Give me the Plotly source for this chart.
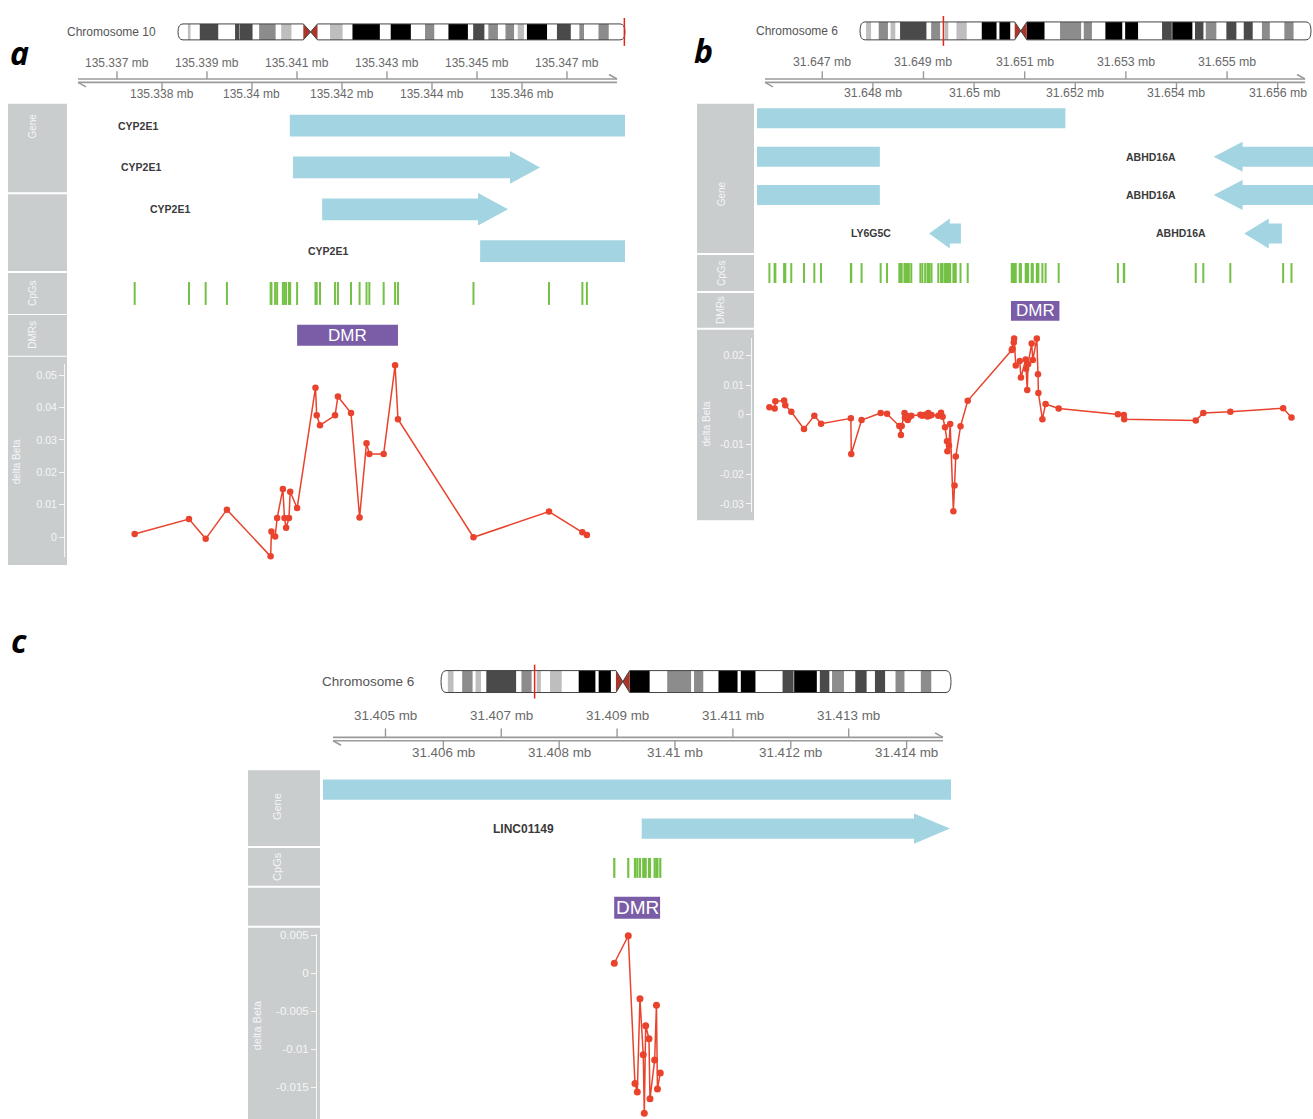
import plotly.graph_objects as go

FIG_W, FIG_H = 1313, 1119
FONT = "Liberation Sans, Arial, sans-serif"

# ---------------------------------------------------------------------------
# Cytoband tables (hg19)
# ---------------------------------------------------------------------------
CHR10_LEN = 135534747
CHR10_BAND_START = [0, 3000000, 3800000, 6600000, 12200000, 17300000, 18600000, 18700000,
                    22600000, 24600000, 29600000, 31300000, 34400000, 38000000, 40200000,
                    42300000, 46100000, 49900000, 52900000, 61200000, 64500000, 70600000,
                    74900000, 77700000, 82000000, 87900000, 89500000, 92900000, 94100000,
                    97000000, 99300000, 101900000, 103000000, 104900000, 105800000,
                    111900000, 114900000, 119100000, 121700000, 123100000, 127500000,
                    130600000]
CHR10_BAND_STAIN = ["gneg", "gpos25", "gneg", "gpos75", "gneg", "gpos75", "gneg", "gpos75",
                    "gneg", "gpos50", "gneg", "gpos25", "gneg", "acen", "acen", "gneg",
                    "gpos25", "gneg", "gpos100", "gneg", "gpos100", "gneg", "gpos50", "gneg",
                    "gpos100", "gneg", "gpos75", "gneg", "gpos50", "gneg", "gpos50", "gneg",
                    "gpos25", "gneg", "gpos100", "gneg", "gpos75", "gneg", "gpos50", "gneg",
                    "gpos50", "gneg"]

CHR6_LEN = 171115067
CHR6_BAND_START = [0, 2300000, 4200000, 7100000, 10600000, 11600000, 13400000, 15200000,
                   25200000, 27000000, 30400000, 32100000, 33500000, 36600000, 40500000,
                   46200000, 51800000, 52900000, 57000000, 58700000, 61000000, 63300000,
                   70000000, 75900000, 83900000, 84900000, 88000000, 93100000, 99500000,
                   100600000, 105500000, 114600000, 118300000, 118500000, 126100000,
                   127100000, 130300000, 131200000, 135200000, 139000000, 142800000,
                   145600000, 149000000, 152500000, 155500000, 161000000, 164500000]
CHR6_BAND_STAIN = ["gneg", "gpos25", "gneg", "gpos50", "gneg", "gpos25", "gneg", "gpos75",
                   "gneg", "gpos50", "gneg", "gpos25", "gneg", "gpos25", "gneg", "gpos100",
                   "gneg", "gpos100", "gneg", "acen", "acen", "gpos100", "gneg", "gpos50",
                   "gneg", "gpos50", "gneg", "gpos100", "gneg", "gpos100", "gneg", "gpos75",
                   "gneg", "gpos100", "gneg", "gpos75", "gneg", "gpos50", "gneg", "gpos75",
                   "gneg", "gpos75", "gneg", "gpos50", "gneg", "gpos50", "gneg"]

# ---------------------------------------------------------------------------
# Panel a : CYP2E1 region, chr10
# ---------------------------------------------------------------------------
A_CHROM = "Chromosome 10"
A_VIEW = [135335956, 135348289]
A_TICKS = [135337000, 135338000, 135339000, 135340000, 135341000, 135342000,
           135343000, 135344000, 135345000, 135346000, 135347000]
A_TICK_TEXT = ["135.337 mb", "135.338 mb", "135.339 mb", "135.34 mb", "135.341 mb",
               "135.342 mb", "135.343 mb", "135.344 mb", "135.345 mb", "135.346 mb",
               "135.347 mb"]
A_GENE_NAME = ["CYP2E1", "CYP2E1", "CYP2E1", "CYP2E1"]
A_GENE_START = [135340840, 135340910, 135341560, 135345070]
A_GENE_END = [135352620, 135346400, 135345690, 135352620]
A_GENE_STRAND = ["+", "+", "+", "+"]
A_GENE_ROW = [1, 2, 3, 4]
A_CPG_POS = [135337393, 135338600, 135338971, 135339443, 135340414, 135340432, 135340514,
             135340559, 135340686, 135340722, 135340758, 135340822, 135340849, 135341003,
             135341411, 135341438, 135341511, 135341846, 135341910, 135342200, 135342391,
             135342545, 135342608, 135342926, 135343180, 135343244, 135344922, 135346600,
             135347342, 135347442]
A_DELTA_BETA = [0.0010, 0.0056, -0.0005, 0.0085, -0.0059, 0.0018, 0.0002, 0.0059, 0.0149,
                0.0059, 0.0029, 0.0059, 0.0140, 0.0090, 0.0461, 0.0376, 0.0345, 0.0376,
                0.0434, 0.0383, 0.0061, 0.0290, 0.0257, 0.0257, 0.0530, 0.0364, 0.0000,
                0.0079, 0.0015, 0.0007]
A_DMR = [135341003, 135343244]
A_BETA_TICKS = [0, 0.01, 0.02, 0.03, 0.04, 0.05]
A_BETA_TICK_TEXT = ["0", "0.01", "0.02", "0.03", "0.04", "0.05"]

# ---------------------------------------------------------------------------
# Panel b : LY6G5C / ABHD16A region, chr6
# ---------------------------------------------------------------------------
B_CHROM = "Chromosome 6"
B_VIEW = [31645710, 31656698]
B_TICKS = [31647000, 31648000, 31649000, 31650000, 31651000, 31652000, 31653000,
           31654000, 31655000, 31656000]
B_TICK_TEXT = ["31.647 mb", "31.648 mb", "31.649 mb", "31.65 mb", "31.651 mb",
               "31.652 mb", "31.653 mb", "31.654 mb", "31.655 mb", "31.656 mb"]
B_GENE_NAME = ["LY6G5C", "LY6G5C", "LY6G5C", "ABHD16A", "ABHD16A", "LY6G5C", "ABHD16A"]
B_GENE_START = [31644411, 31644411, 31644411, 31654734, 31654734, 31649112, 31655339]
B_GENE_END = [31651805, 31648138, 31648138, 31671221, 31671221, 31649740, 31656084]
B_GENE_STRAND = ["-", "-", "-", "-", "-", "-", "-"]
B_GENE_ROW = [1, 2, 3, 2, 3, 4, 4]
B_CPG_POS = [31645955, 31646058, 31646073, 31646246, 31646269, 31646387, 31646639, 31646843,
             31646976, 31647565, 31647573, 31647777, 31648154, 31648280, 31648523, 31648554,
             31648570, 31648625, 31648633, 31648664, 31648688, 31648711, 31648759, 31648939,
             31648978, 31649033, 31649080, 31649096, 31649120, 31649159, 31649293, 31649347,
             31649379, 31649426, 31649465, 31649473, 31649504, 31649528, 31649591, 31649614,
             31649638, 31649732, 31649874, 31650745, 31650761, 31650784, 31650792, 31650824,
             31650902, 31650926, 31651020, 31651028, 31651051, 31651067, 31651138, 31651161,
             31651240, 31651263, 31651271, 31651350, 31651413, 31651672, 31652842, 31652959,
             31652967, 31654381, 31654530, 31655064, 31656108, 31656273]
B_DELTA_BETA = [0.0025, 0.0021, 0.0045, 0.0048, 0.0032, 0.0010, -0.0048, -0.0003, -0.0030,
                -0.0012, -0.0132, -0.0018, 0.0006, 0.0003, -0.0038, -0.0068, -0.0038, 0.0006,
                -0.0010, -0.0003, -0.0018, -0.0009, -0.0003, 0.0000, -0.0003, 0.0000, -0.0006,
                0.0006, -0.0003, -0.0001, -0.0003, 0.0007, -0.0007, -0.0042, -0.0089, -0.0123,
                -0.0104, -0.0031, -0.0325, -0.0238, -0.0141, -0.0039, 0.0047, 0.0218, 0.0222,
                0.0243, 0.0257, 0.0166, 0.0181, 0.0125, 0.0186, 0.0155, 0.0083, 0.0170, 0.0240,
                0.0184, 0.0257, 0.0136, 0.0073, -0.0015, 0.0036, 0.0021, 0.0002, -0.0001,
                -0.0015, -0.0019, 0.0006, 0.0010, 0.0022, -0.0009]
B_DMR = [31650729, 31651687]
B_BETA_TICKS = [0.02, 0.01, 0, -0.01, -0.02, -0.03]
B_BETA_TICK_TEXT = ["0.02", "0.01", "0", "-0.01", "-0.02", "-0.03"]

# ---------------------------------------------------------------------------
# Panel c : LINC01149 region, chr6
# ---------------------------------------------------------------------------
C_CHROM = "Chromosome 6"
C_VIEW = [31403921, 31414767]
C_TICKS = [31405000, 31406000, 31407000, 31408000, 31409000, 31410000, 31411000,
           31412000, 31413000, 31414000]
C_TICK_TEXT = ["31.405 mb", "31.406 mb", "31.407 mb", "31.408 mb", "31.409 mb",
               "31.41 mb", "31.411 mb", "31.412 mb", "31.413 mb", "31.414 mb"]
C_GENE_NAME = ["", "LINC01149"]
C_GENE_START = [31395000, 31409425]
C_GENE_END = [31420000, 31414750]
C_GENE_STRAND = ["+", "+"]
C_GENE_ROW = [1, 2]
C_CPG_POS = [31408952, 31409193, 31409309, 31409349, 31409395, 31409452, 31409470,
             31409494, 31409551, 31409568, 31409649, 31409680, 31409697, 31409746]
C_DELTA_BETA = [0.00131, 0.00493, -0.0145, -0.0156, -0.00336, -0.0107, -0.0184, -0.0069,
                -0.0086, -0.0165, -0.0114, -0.0042, -0.0152, -0.0131]
C_DMR = [31408950, 31409743]
C_BETA_TICKS = [0.005, 0, -0.005, -0.01, -0.015]
C_BETA_TICK_TEXT = ["0.005", "0", "-0.005", "-0.01", "-0.015"]

# ---------------------------------------------------------------------------
# Styling
# ---------------------------------------------------------------------------
STAIN_COLOR = {"gpos25": "#BEBEBE", "gpos50": "#8C8C8C", "gpos75": "#4A4A4A",
               "gpos100": "#000000"}
ACEN_COLOR = "#A9362B"
GENE_COLOR = "#A3D4E1"
CPG_COLOR = "#74C145"
DMR_COLOR = "#7B5CA7"
BETA_COLOR = "#E9432D"
SIDEBAR_COLOR = "#C9CDCE"
SIDEBAR_TEXT = "#F6F6F6"
AXIS_COLOR = "#9A9A9A"
AXIS_TEXT = "#696969"

PANELS = [
    dict(tag="a", chrom=A_CHROM, chr_len=CHR10_LEN, band_start=CHR10_BAND_START,
         band_stain=CHR10_BAND_STAIN, view=A_VIEW, ticks=A_TICKS, tick_text=A_TICK_TEXT,
         gene_name=A_GENE_NAME, gene_start=A_GENE_START, gene_end=A_GENE_END,
         gene_strand=A_GENE_STRAND, gene_row=A_GENE_ROW, cpg=A_CPG_POS, beta=A_DELTA_BETA,
         dmr=A_DMR, beta_ticks=A_BETA_TICKS, beta_tick_text=A_BETA_TICK_TEXT,
         geom=dict(tag_xy=(19.5, 49), data_x=(70, 625),
                   ideo_x=(178, 625), ideo_y=(20, 36), chr_label_x=158, chr_font=12,
                   axis_x=(78, 617), axis_y=(75.3, 78.7), tick_up=67.5, tick_lo=86.5,
                   lab_top=58.8, lab_bot=90.5, tick_font=12,
                   gene_y=(101, 269), label_gap=130, head_px=30, gene_font=10.5,
                   side_x=(8, 67),
                   sections=[(100, 189), (191, 268), (270, 311), (312, 353), (354, 563)],
                   titles=[("Gene", 33, 123), ("CpGs", 33, 290), ("DMRs", 33, 332),
                           ("delta Beta", 16, 460)], title_font=10,
                   cpg_y=(279, 302), cpg_w=2, dmr_y=(322, 343), dmr_font=17,
                   beta_y=(361, 555), beta_range=[-0.0061, 0.0535], beta_axis_x=64,
                   beta_font=10.5, marker=6.5)),
    dict(tag="b", chrom=B_CHROM, chr_len=CHR6_LEN, band_start=CHR6_BAND_START,
         band_stain=CHR6_BAND_STAIN, view=B_VIEW, ticks=B_TICKS, tick_text=B_TICK_TEXT,
         gene_name=B_GENE_NAME, gene_start=B_GENE_START, gene_end=B_GENE_END,
         gene_strand=B_GENE_STRAND, gene_row=B_GENE_ROW, cpg=B_CPG_POS, beta=B_DELTA_BETA,
         dmr=B_DMR, beta_ticks=B_BETA_TICKS, beta_tick_text=B_BETA_TICK_TEXT,
         geom=dict(tag_xy=(703, 47), data_x=(757, 1313),
                   ideo_x=(860, 1311), ideo_y=(18, 36), chr_label_x=840, chr_font=12,
                   axis_x=(765, 1305), axis_y=(75.3, 78.7), tick_up=67.5, tick_lo=86.5,
                   lab_top=58.3, lab_bot=89.5, tick_font=12.3,
                   gene_y=(95.5, 249.5), label_gap=36, head_px=29, gene_font=10.5,
                   side_x=(697, 754),
                   sections=[(100, 250), (252, 288), (290, 325), (327, 518)],
                   titles=[("Gene", 721, 190), ("CpGs", 721, 270), ("DMRs", 721, 307),
                           ("delta Beta", 706, 422)], title_font=10,
                   cpg_y=(260, 280), cpg_w=2, dmr_y=(298, 318), dmr_font=17,
                   beta_y=(335, 510), beta_range=[-0.0328, 0.0259], beta_axis_x=751,
                   beta_font=10.5, marker=6.5)),
    dict(tag="c", chrom=C_CHROM, chr_len=CHR6_LEN, band_start=CHR6_BAND_START,
         band_stain=CHR6_BAND_STAIN, view=C_VIEW, ticks=C_TICKS, tick_text=C_TICK_TEXT,
         gene_name=C_GENE_NAME, gene_start=C_GENE_START, gene_end=C_GENE_END,
         gene_strand=C_GENE_STRAND, gene_row=C_GENE_ROW, cpg=C_CPG_POS, beta=C_DELTA_BETA,
         dmr=C_DMR, beta_ticks=C_BETA_TICKS, beta_tick_text=C_BETA_TICK_TEXT,
         geom=dict(tag_xy=(19, 639), data_x=(323, 951),
                   ideo_x=(441, 951), ideo_y=(669, 691), chr_label_x=416, chr_font=13.5,
                   axis_x=(333, 943), axis_y=(736.0, 739.4), tick_up=727, tick_lo=748,
                   lab_top=714.5, lab_bot=751.5, tick_font=13.4,
                   gene_y=(769, 847), label_gap=86, head_px=36, gene_font=12,
                   side_x=(248, 320),
                   sections=[(769, 845), (847, 885), (887, 925), (927, 1119)],
                   titles=[("Gene", 277, 806), ("CpGs", 277, 866),
                           ("delta Beta", 257, 1025)], title_font=11,
                   cpg_y=(857, 877), cpg_w=2.2, dmr_y=(896, 918), dmr_font=19,
                   beta_y=(933, 1119), beta_range=[-0.01915, 0.0052], beta_axis_x=316,
                   beta_font=11.5, marker=7)),
]


def px(x):
    return x / FIG_W


def py(y):
    return 1 - y / FIG_H


def ax_key(letter, n):
    return f"{letter}axis" if n == 1 else f"{letter}axis{n}"


def ax_ref(letter, n):
    return letter if n == 1 else f"{letter}{n}"


def gene_path(start, end, strand, row, view, head_bp, body=0.26, head=0.39):
    v0, v1 = view
    s, e = max(start, v0), min(end, v1)
    if strand == "+" and end <= v1:
        hl = min(head_bp, 0.65 * (end - s))
        n = end - hl
        pts = [(s, row - body), (n, row - body), (n, row - head), (end, row),
               (n, row + head), (n, row + body), (s, row + body)]
    elif strand == "-" and start >= v0:
        hl = min(head_bp, 0.65 * (e - start))
        n = start + hl
        pts = [(e, row - body), (n, row - body), (n, row - head), (start, row),
               (n, row + head), (n, row + body), (e, row + body)]
    else:
        pts = [(s, row - body), (e, row - body), (e, row + body), (s, row + body)]
    return "M " + " L ".join(f"{x},{y}" for x, y in pts) + " Z"


shapes, annotations, traces = [], [], []
layout_axes = {}

for i, pnl in enumerate(PANELS):
    g = pnl["geom"]
    nxg, nxi = 2 * i + 1, 2 * i + 2
    nyg, nyb, nyi = 3 * i + 1, 3 * i + 2, 3 * i + 3
    XG, XI = ax_ref("x", nxg), ax_ref("x", nxi)
    YG, YB, YI = ax_ref("y", nyg), ax_ref("y", nyb), ax_ref("y", nyi)
    v0, v1 = pnl["view"]
    d0, d1 = g["data_x"]
    ppb = (d1 - d0) / (v1 - v0)

    # ---- panel tag ----
    annotations.append(dict(text=f"<b><i>{pnl['tag']}</i></b>", xref="paper", yref="paper",
                            x=px(g["tag_xy"][0]), y=py(g["tag_xy"][1]), showarrow=False,
                            xanchor="center", yanchor="middle",
                            font=dict(family="Open Sans, Liberation Sans, sans-serif",
                                      size=32, color="#000000")))

    # ---- ideogram ----
    ix0, ix1 = g["ideo_x"]
    iy0, iy1 = g["ideo_y"]
    chr_len = pnl["chr_len"]
    ippb = (ix1 - ix0) / chr_len
    pad = 2
    layout_axes[ax_key("x", nxi)] = dict(domain=[px(ix0 - pad), px(ix1 + pad)],
                                         range=[-pad / ippb, chr_len + pad / ippb],
                                         visible=False, anchor=YI, fixedrange=True)
    ih = iy1 - iy0
    layout_axes[ax_key("y", nyi)] = dict(domain=[py(iy1 + pad), py(iy0 - pad)],
                                         range=[-pad / ih, 1 + pad / ih],
                                         visible=False, anchor=XI, fixedrange=True)
    traces.append(go.Scatter(x=[None], y=[None], xaxis=XI, yaxis=YI, showlegend=False,
                             hoverinfo="skip"))
    b_start = pnl["band_start"]
    b_end = b_start[1:] + [chr_len]
    acen = [(s, e) for s, e, st in zip(b_start, b_end, pnl["band_stain"]) if st == "acen"]
    cen_l, cen_m, cen_r = acen[0][0], acen[0][1], acen[1][1]
    for s, e, st in zip(b_start, b_end, pnl["band_stain"]):
        if st in STAIN_COLOR:
            shapes.append(dict(type="rect", xref=XI, yref=YI, x0=s, x1=e, y0=0, y1=1,
                               fillcolor=STAIN_COLOR[st], line=dict(width=0)))
    shapes.append(dict(type="path", xref=XI, yref=YI,
                       path=f"M {cen_l},0 L {cen_l},1 L {cen_m},0.5 Z",
                       fillcolor=ACEN_COLOR, line=dict(width=0)))
    shapes.append(dict(type="path", xref=XI, yref=YI,
                       path=f"M {cen_r},0 L {cen_r},1 L {cen_m},0.5 Z",
                       fillcolor=ACEN_COLOR, line=dict(width=0)))
    rx = 5 / ippb
    outline = (f"M {rx},1 L {cen_l},1 L {cen_m},0.5 L {cen_r},1 L {chr_len - rx},1 "
               f"Q {chr_len},1 {chr_len},0.5 Q {chr_len},0 {chr_len - rx},0 "
               f"L {cen_r},0 L {cen_m},0.5 L {cen_l},0 L {rx},0 "
               f"Q 0,0 0,0.5 Q 0,1 {rx},1 Z")
    shapes.append(dict(type="path", xref=XI, yref=YI, path=outline,
                       line=dict(color="#444444", width=1)))
    mid = (v0 + v1) / 2
    shapes.append(dict(type="line", xref=XI, yref="paper", x0=mid, x1=mid,
                       y0=py(iy1 + 6), y1=py(iy0 - 6), line=dict(color="#E3261B", width=1.5)))
    annotations.append(dict(text=pnl["chrom"], xref="paper", yref="paper",
                            x=px(g["chr_label_x"]), y=py((iy0 + iy1) / 2), showarrow=False,
                            xanchor="right", yanchor="middle",
                            font=dict(family=FONT, size=g["chr_font"], color="#555555")))

    # ---- genome axis ----
    layout_axes[ax_key("x", nxg)] = dict(domain=[px(d0), px(d1)], range=[v0, v1],
                                         visible=False, anchor=YG, fixedrange=True)
    ax0, ax1 = g["axis_x"]
    yu, yl = g["axis_y"]
    for yy in (yu, yl):
        shapes.append(dict(type="line", xref="paper", yref="paper", x0=px(ax0), x1=px(ax1),
                           y0=py(yy), y1=py(yy), line=dict(color=AXIS_COLOR, width=1.6)))
    shapes.append(dict(type="line", xref="paper", yref="paper", x0=px(ax1 - 8), x1=px(ax1),
                       y0=py(yu - 4.5), y1=py(yu), line=dict(color=AXIS_COLOR, width=1.6)))
    shapes.append(dict(type="line", xref="paper", yref="paper", x0=px(ax0 + 8), x1=px(ax0),
                       y0=py(yl + 4.5), y1=py(yl), line=dict(color=AXIS_COLOR, width=1.6)))
    for k, (t, txt) in enumerate(zip(pnl["ticks"], pnl["tick_text"])):
        up = (k % 2 == 0)
        ya, yb_ = (g["tick_up"], yu) if up else (yl, g["tick_lo"])
        shapes.append(dict(type="line", xref=XG, yref="paper", x0=t, x1=t,
                           y0=py(ya), y1=py(yb_), line=dict(color=AXIS_COLOR, width=1.4)))
        annotations.append(dict(text=txt, xref=XG, yref="paper", x=t,
                                y=py(g["lab_top"] if up else g["lab_bot"]), showarrow=False,
                                xanchor="center", yanchor="middle",
                                font=dict(family=FONT, size=g["tick_font"], color=AXIS_TEXT)))

    # ---- sidebar ----
    sx0, sx1 = g["side_x"]
    for (s0, s1) in g["sections"]:
        shapes.append(dict(type="rect", xref="paper", yref="paper", x0=px(sx0), x1=px(sx1),
                           y0=py(s1), y1=py(s0), fillcolor=SIDEBAR_COLOR, line=dict(width=0),
                           layer="below"))
    for (txt, tx, ty) in g["titles"]:
        annotations.append(dict(text=txt, xref="paper", yref="paper", x=px(tx), y=py(ty),
                                showarrow=False, textangle=-90, xanchor="center",
                                yanchor="middle",
                                font=dict(family=FONT, size=g["title_font"],
                                          color=SIDEBAR_TEXT)))

    # ---- gene track ----
    gy0, gy1 = g["gene_y"]
    nrows = max(pnl["gene_row"])
    layout_axes[ax_key("y", nyg)] = dict(domain=[py(gy1), py(gy0)],
                                         range=[nrows + 0.5, 0.5], visible=False,
                                         anchor=XG, fixedrange=True)
    traces.append(go.Scatter(x=[None], y=[None], xaxis=XG, yaxis=YG, showlegend=False,
                             hoverinfo="skip"))
    head_bp = g["head_px"] / ppb
    for name, s, e, strand, row in zip(pnl["gene_name"], pnl["gene_start"], pnl["gene_end"],
                                       pnl["gene_strand"], pnl["gene_row"]):
        shapes.append(dict(type="path", xref=XG, yref=YG,
                           path=gene_path(s, e, strand, row, pnl["view"], head_bp),
                           fillcolor=GENE_COLOR, line=dict(width=0)))
        if name and s >= v0:
            annotations.append(dict(text=f"<b>{name}</b>", xref=XG, yref=YG, x=s, y=row,
                                    showarrow=False, xanchor="right", yanchor="middle",
                                    xshift=-g["label_gap"],
                                    font=dict(family=FONT, size=g["gene_font"],
                                              color="#3A3A3A")))

    # ---- CpG track ----
    cy0, cy1 = g["cpg_y"]
    for pos in pnl["cpg"]:
        shapes.append(dict(type="line", xref=XG, yref="paper", x0=pos, x1=pos,
                           y0=py(cy1), y1=py(cy0), line=dict(color=CPG_COLOR, width=g["cpg_w"])))

    # ---- DMR track ----
    my0, my1 = g["dmr_y"]
    ds, de = pnl["dmr"]
    shapes.append(dict(type="rect", xref=XG, yref="paper", x0=ds, x1=de, y0=py(my1), y1=py(my0),
                       fillcolor=DMR_COLOR, line=dict(width=0)))
    annotations.append(dict(text="DMR", xref=XG, yref="paper", x=(ds + de) / 2,
                            y=py((my0 + my1) / 2), showarrow=False, xanchor="center",
                            yanchor="middle",
                            font=dict(family=FONT, size=g["dmr_font"], color="#FFFFFF")))

    # ---- delta beta track ----
    by0, by1 = g["beta_y"]
    layout_axes[ax_key("y", nyb)] = dict(
        domain=[py(by1), py(by0)], range=g["beta_range"], anchor="free",
        position=px(g["beta_axis_x"]), side="left", showline=True, linecolor=SIDEBAR_TEXT,
        linewidth=1, ticks="outside", ticklen=5, tickwidth=1, tickcolor=SIDEBAR_TEXT,
        tickvals=pnl["beta_ticks"], ticktext=pnl["beta_tick_text"],
        tickfont=dict(family=FONT, size=g["beta_font"], color=SIDEBAR_TEXT),
        showgrid=False, zeroline=False, fixedrange=True)
    traces.append(go.Scatter(x=pnl["cpg"], y=pnl["beta"], xaxis=XG, yaxis=YB,
                             mode="lines+markers", cliponaxis=False, showlegend=False,
                             line=dict(color=BETA_COLOR, width=1.5),
                             marker=dict(color=BETA_COLOR, size=g["marker"])))

fig = go.Figure(data=traces)
fig.update_layout(width=FIG_W, height=FIG_H, margin=dict(l=0, r=0, t=0, b=0),
                  paper_bgcolor="#FFFFFF", plot_bgcolor="rgba(0,0,0,0)",
                  showlegend=False, shapes=shapes, annotations=annotations,
                  font=dict(family=FONT), **layout_axes)
fig.write_html("out.html")
